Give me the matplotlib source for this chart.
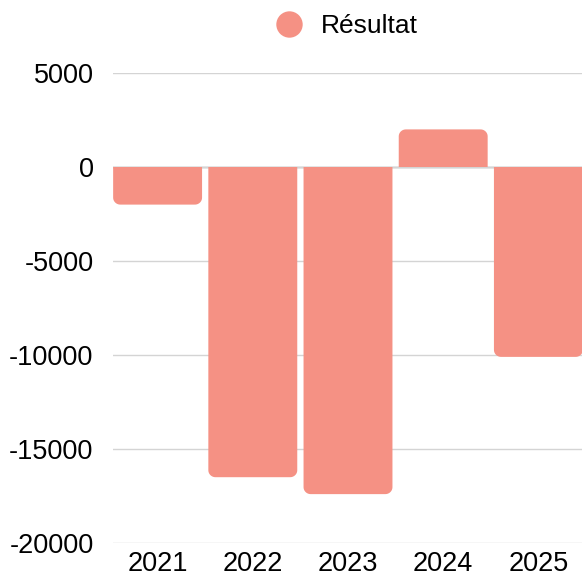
import numpy as np
import matplotlib
matplotlib.use("Agg")
import matplotlib.pyplot as plt
from matplotlib.patches import Polygon
from matplotlib.lines import Line2D

plt.rcParams['font.family'] = ['Liberation Sans', 'DejaVu Sans']

years = ['2021', '2022', '2023', '2024', '2025']
resultat = [-2000, -16500, -17400, 2000, -10100]
yticks = [5000, 0, -5000, -10000, -15000, -20000]
color = '#F59184'

fig = plt.figure(figsize=(5.82, 5.77), dpi=100)
ax = fig.add_axes([113/582, 34/577, 473/582, 470/577])


def rounded_bar(xc, v, w, rx, ry):
    # bar from 0 to v, rounded corners only on the far end
    s = 1 if v >= 0 else -1
    x0, x1 = xc - w/2, xc + w/2
    t = np.linspace(0, np.pi/2, 12)
    pts = [(x0, 0)]
    for a in t:
        pts.append((x0 + rx - rx*np.cos(a), v - s*ry + s*ry*np.sin(a)))
    for a in t:
        pts.append((x1 - rx + rx*np.sin(a), v - s*ry + s*ry*np.cos(a)))
    pts.append((x1, 0))
    return Polygon(pts, closed=True, fc=color, ec='none', zorder=2)


x = np.arange(len(years))
w = 0.934
for xi, v in zip(x, resultat):
    ax.add_patch(rounded_bar(xi, v, w, 0.075, 370))

ax.set_xlim(-0.5 + 3/95.25, 4.5)
ax.set_ylim(-20000, 5000)
ax.set_yticks(yticks)
ax.set_yticklabels([str(t) for t in yticks])
ax.set_xticks(x)
ax.set_xticklabels(years)
ax.grid(axis='y', color='#d4d4d4', linewidth=1, zorder=0)
ax.axhline(0, color='#8a8a8a', linewidth=1, zorder=1)
for s in ax.spines.values():
    s.set_visible(False)
ax.tick_params(length=0, labelsize=19.5, colors='black')
ax.tick_params(axis='y', pad=14)
ax.tick_params(axis='x', pad=6)

handle = Line2D([], [], marker='o', linestyle='none', markersize=19,
                markerfacecolor=color, markeredgecolor='none')
fig.legend([handle], ['Résultat'], loc='center', bbox_to_anchor=(340/582, 1 - 26/577),
           frameon=False, fontsize=19, handletextpad=0.2, borderaxespad=0)

fig.savefig('out.png', dpi=100)
